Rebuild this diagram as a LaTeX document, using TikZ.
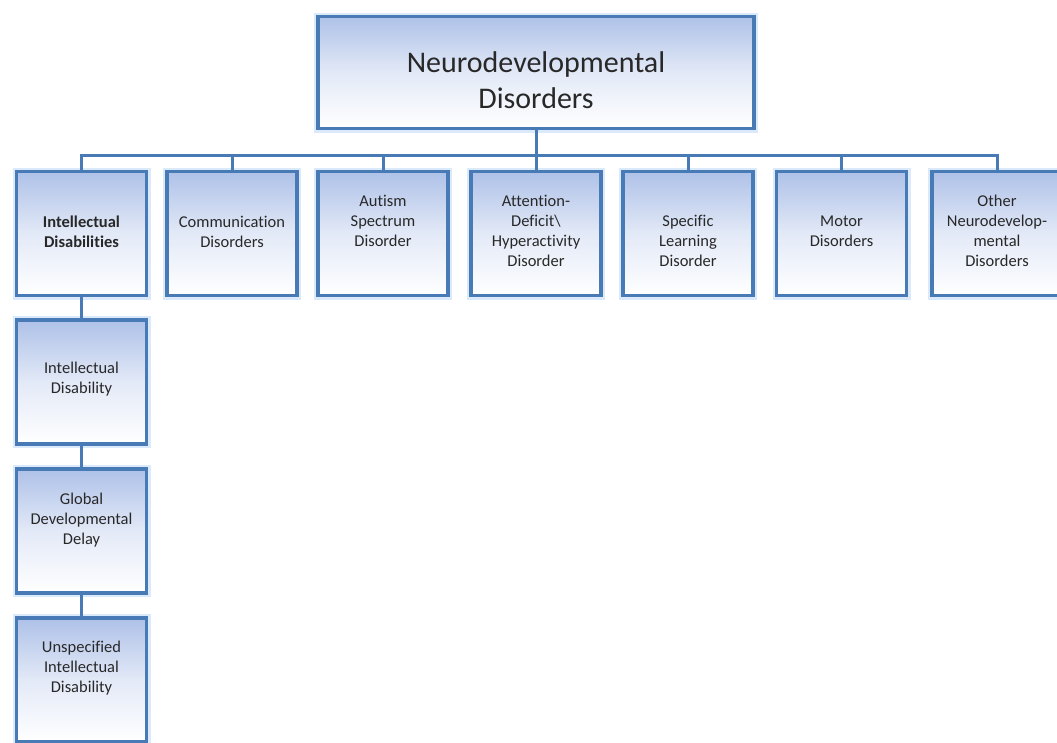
\documentclass[tikz,border=0pt]{standalone}
\usepackage{fontspec}
\setmainfont{Carlito}[Ligatures=NoCommon]
\usetikzlibrary{calc}
\definecolor{bord}{RGB}{72,122,182}
\definecolor{boxtop}{RGB}{174,193,232}
\definecolor{glow}{RGB}{218,234,250}
\definecolor{txtc}{RGB}{40,40,40}
\begin{document}
\begin{tikzpicture}[x=1pt,y=-1pt,
  box/.style={draw=bord, line width=3.5pt, top color=boxtop, bottom color=white, middle color=boxtop!35!white,
    minimum width=130pt, minimum height=124pt, inner sep=0pt, preaction={draw=glow, line width=8pt}},
  txt/.style={text=txtc, align=center, inner sep=0pt, font=\fontsize{16.5}{20}\selectfont},
  conn/.style={draw=bord, line width=3pt}]
\path[fill=white, use as bounding box] (0,0) rectangle (1057,742);

% top box
\node[box, minimum width=436pt, minimum height=112pt] (top) at (536,72.5) {};
\node[txt, font=\fontsize{30}{36}\selectfont] (topt) at (536,80) {Neurodevelopmental\\Disorders};

% first row
\node[box] (b1) at (81.5,233.5) {};
\node[box] (b2) at (232,233.5) {};
\node[box] (b3) at (383,233.5) {};
\node[box] (b4) at (536,233.5) {};
\node[box] (b5) at (688,233.5) {};
\node[box] (b6) at (841.5,233.5) {};
\node[box] (b7) at (997,233.5) {};

\node[txt, font=\fontsize{16.5}{20}\selectfont\bfseries] (t1) at (81.5,232) {Intellectual\\Disabilities};
\node[txt] (t2) at (232,232) {Communication\\Disorders};
\node[txt] (t3) at (383,221) {Autism\\Spectrum\\Disorder};
\node[txt] (t4) at (536,231) {Attention-\\Deficit\textbackslash\\Hyperactivity\\Disorder};
\node[txt] (t5) at (688,241) {Specific\\Learning\\Disorder};
\node[txt] (t6) at (841.5,231) {Motor\\Disorders};
\node[txt] (t7) at (997,231) {Other\\Neurodevelop-\\mental\\Disorders};

% column under first box
\node[box] (c1) at (81.5,382) {};
\node[box] (c2) at (81.5,531) {};
\node[box] (c3) at (81.5,680) {};
\node[txt] (u1) at (81.5,379) {Intellectual\\Disability};
\node[txt] (u2) at (81.5,520) {Global\\Developmental\\Delay};
\node[txt] (u3) at (81.5,668) {Unspecified\\Intellectual\\Disability};

% connectors
\coordinate (bus) at (536,155);
\draw[conn] (top.south) -- (bus);
\foreach \n in {b1,b2,b3,b4,b5,b6,b7} \draw[conn] (bus) -| (\n.north);
\draw[conn] (b1.south) -- (c1.north);
\draw[conn] (c1.south) -- (c2.north);
\draw[conn] (c2.south) -- (c3.north);
\end{tikzpicture}
\end{document}
